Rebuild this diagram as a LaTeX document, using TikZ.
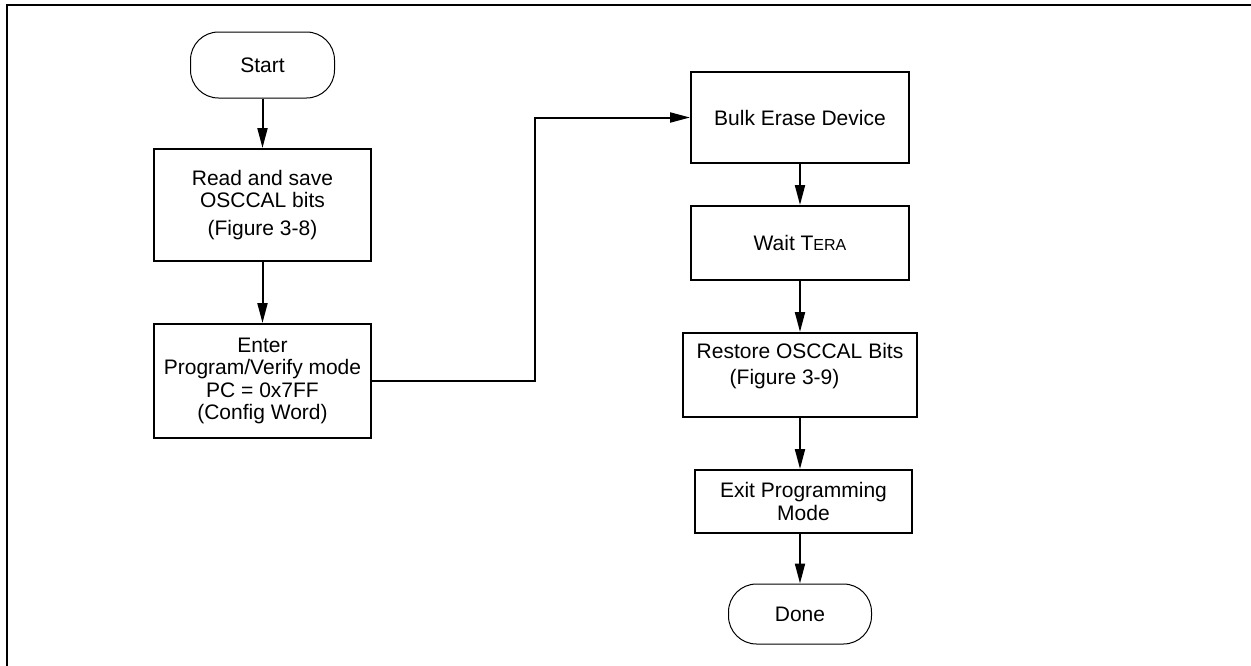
\documentclass[tikz,border=0pt]{standalone}
\usepackage{fontspec}
\setmainfont{Liberation Sans}
\usetikzlibrary{arrows.meta}

\tikzset{every picture/.style={line width=2pt}}
\tikzset{
  procbox/.style={draw, rectangle, line width=2pt, inner sep=0pt, align=center,
    font=\fontsize{21}{22.5}\selectfont},
  termbox/.style={draw, rectangle, rounded corners=28pt, line width=1pt, inner sep=0pt,
    font=\fontsize{21}{22.5}\selectfont},
  flowarrow/.style={line width=2pt, -{Triangle[length=20pt,width=10pt]}},
  frameline/.style={line width=2pt, line cap=rect}
}

\begin{document}
\begin{tikzpicture}[x=1pt,y=1pt,yscale=-1,xscale=1]
\useasboundingbox (0,0) rectangle (1251,665);

%Straight Lines: frame (top and left only)
\draw [frameline] (1251,5) -- (7,5) -- (7,665) ;

%Shape: Terminal
\node [termbox, minimum width=144pt, minimum height=66pt] (start) at (262.5,65) {Start};
%Shape: Rectangle
\node [procbox, minimum width=217pt, minimum height=112pt] (readosc) at (262.5,205)
  {Read and save\\OSCCAL bits\\[5pt](Figure 3-8)};
%Shape: Rectangle
\node [procbox, minimum width=217pt, minimum height=114pt] (entermode) at (262.5,381)
  {Enter\\Program/Verify mode\\PC = 0x7FF\\(Config Word)};
%Shape: Rectangle
\node [procbox, minimum width=218pt, minimum height=91pt] (bulkerase) at (800,117.5)
  {Bulk Erase Device};
%Shape: Rectangle
\node [procbox, minimum width=218pt, minimum height=74pt] (waittera) at (800,243)
  {Wait T{\fontsize{16}{16}\selectfont ERA}};
%Shape: Rectangle
\node [procbox, minimum width=234pt, minimum height=84pt, align=left] (restoreosc) at (800,375)
  {Restore OSCCAL Bits\\[3pt]\hspace*{33pt}(Figure 3-9)\\\rule{0pt}{2pt}};
%Shape: Rectangle
\node [procbox, minimum width=217pt, minimum height=63pt] (exitprog) at (803.5,501.5)
  {Exit Programming\\Mode};
%Shape: Terminal
\node [termbox, minimum width=143pt, minimum height=60pt] (done) at (800,614) {Done};

\coordinate (bend) at (535,117.5);

%Straight Lines
\draw [flowarrow] (start) -- (readosc) ;
\draw [flowarrow] (readosc) -- (entermode) ;
\draw [flowarrow] (entermode.east) -| (bend) -- (bulkerase.west) ;
\draw [flowarrow] (bulkerase) -- (waittera) ;
\draw [flowarrow] (waittera) -- (restoreosc) ;
\draw [flowarrow] (restoreosc) -- (restoreosc |- exitprog.north) ;
\draw [flowarrow] (exitprog.south -| done) -- (done) ;

\end{tikzpicture}
\end{document}
